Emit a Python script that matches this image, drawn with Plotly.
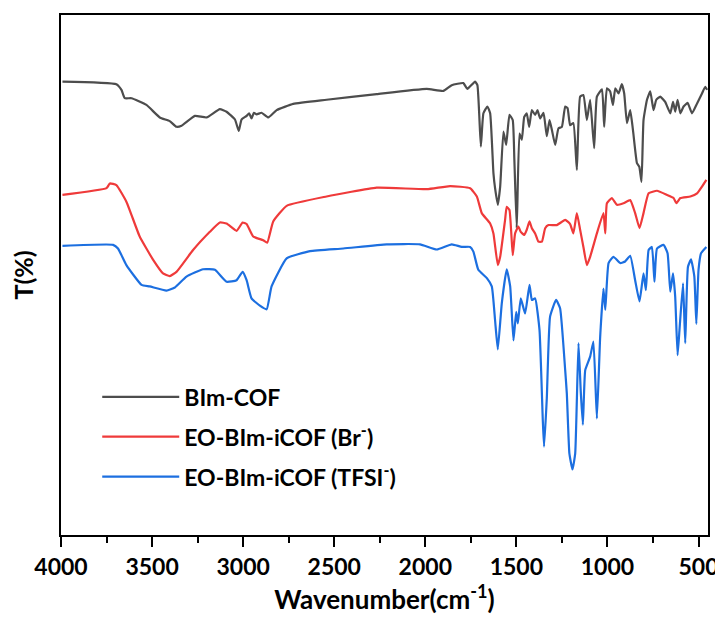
import plotly.graph_objects as go

# ---------------- data ----------------
bim_wn = [3992, 3696, 3668, 3650, 3613, 3531, 3458, 3403, 3366, 3338, 3265, 3201, 3128, 3091,
          3045, 3024, 3009, 2981, 2967, 2954, 2941, 2926, 2899, 2862, 2816, 2725, 2542, 2267,
          1992, 1901, 1855, 1791, 1769, 1727, 1714, 1695, 1681, 1659, 1644, 1626, 1617, 1602,
          1589, 1571, 1556, 1538, 1520, 1511, 1498, 1483, 1470, 1457, 1443, 1430, 1415, 1397,
          1384, 1370, 1351, 1333, 1318, 1305, 1287, 1269, 1250, 1232, 1219, 1205, 1187, 1168,
          1150, 1132, 1113, 1095, 1073, 1058, 1030, 1018, 1003, 985, 970, 957, 939, 921, 908,
          893, 875, 860, 838, 825, 813, 802, 783, 765, 747, 732, 710, 683, 655, 640, 628, 615,
          600, 582, 560, 536, 508, 481, 463, 453]
bim_t = [87.2, 86.7, 85.6, 84.0, 84.0, 82.7, 80.3, 79.6, 78.5, 78.7, 80.6, 80.3, 81.9, 81.4,
         79.9, 77.7, 79.9, 80.6, 81.1, 80.1, 81.2, 80.9, 81.2, 80.3, 81.7, 82.9, 83.7, 84.8,
         85.8, 85.4, 86.5, 86.9, 85.8, 87.2, 86.5, 74.7, 81.1, 82.4, 81.1, 69.6, 66.7, 63.5,
         67.0, 77.6, 75.0, 80.8, 79.8, 72.1, 59.0, 77.2, 76.0, 80.4, 81.1, 78.5, 81.7, 80.8,
         81.7, 80.1, 81.2, 76.7, 79.8, 77.9, 75.0, 78.2, 78.5, 82.4, 82.1, 78.8, 79.2, 70.2,
         84.3, 84.6, 79.8, 83.7, 74.4, 84.3, 85.7, 78.5, 85.9, 85.3, 82.7, 85.9, 84.9, 86.7, 84.9,
         79.2, 81.7, 77.9, 71.5, 70.8, 67.9, 79.8, 83.7, 85.3, 81.7, 83.7, 84.3, 83.3, 81.1, 83.3,
         81.4, 83.7, 81.1, 82.4, 83.1, 81.1, 83.0, 84.9, 86.2, 85.6]

br_wn = [3992, 3750, 3732, 3696, 3641, 3568, 3494, 3440, 3403, 3366, 3275, 3183, 3128, 3091,
         3036, 3003, 2981, 2945, 2890, 2868, 2835, 2761, 2542, 2267, 1992, 1864, 1754, 1717,
         1690, 1644, 1626, 1602, 1589, 1562, 1553, 1538, 1520, 1507, 1489, 1476, 1457, 1443,
         1428, 1415, 1397, 1379, 1360, 1342, 1324, 1278, 1232, 1205, 1187, 1168, 1150, 1132,
         1113, 1095, 1058, 1022, 1012, 1003, 976, 948, 912, 875, 848, 824, 802, 774, 728, 673,
         637, 622, 600, 545, 508, 481, 457]
br_t = [65.4, 66.7, 67.6, 67.3, 64.1, 57.4, 52.9, 50.3, 49.8, 50.6, 54.8, 58.3, 60.1, 59.9,
        58.5, 60.1, 59.8, 57.4, 56.7, 56.2, 60.3, 63.3, 65.1, 66.8, 66.5, 67.1, 66.7, 65.1,
        61.9, 59.9, 58.0, 51.9, 53.5, 60.6, 63.1, 62.5, 53.8, 58.0, 59.3, 58.3, 57.7, 58.7,
        60.3, 59.0, 58.0, 56.4, 56.4, 59.0, 59.6, 59.6, 60.6, 59.8, 58.0, 61.9, 58.7, 55.4,
        51.9, 53.5, 58.0, 61.9, 58.0, 63.8, 64.8, 63.5, 63.8, 64.4, 61.9, 59.0, 61.9, 65.7, 66.2,
        65.4, 64.8, 63.8, 64.8, 65.1, 65.7, 67.0, 68.3]

tfsi_wn = [3992, 3714, 3687, 3641, 3558, 3513, 3421, 3375, 3311, 3220, 3155, 3091, 3036, 3003,
           2981, 2954, 2908, 2871, 2844, 2761, 2633, 2450, 2212, 2029, 1937, 1855, 1800, 1754,
           1736, 1709, 1662, 1635, 1617, 1602, 1580, 1553, 1534, 1516, 1501, 1492, 1476, 1452,
           1428, 1415, 1397, 1373, 1355, 1348, 1333, 1315, 1282, 1260, 1232, 1223, 1209, 1192,
           1177, 1159, 1146, 1135, 1122, 1095, 1077, 1058, 1040, 1022, 1012, 994, 967, 930, 903,
           875, 848, 824, 802, 789, 774, 756, 742, 728, 692, 670, 655, 640, 628, 615, 604, 585,
           573, 558, 541, 523, 512, 500, 486, 457]
tfsi_t = [55.6, 55.8, 55.1, 51.9, 48.1, 47.8, 47.0, 47.6, 49.7, 51.1, 51.0, 48.7, 49.0, 50.6,
          49.0, 45.5, 44.1, 43.4, 47.8, 53.2, 54.6, 55.1, 55.9, 55.9, 54.9, 55.9, 55.4, 55.4,
          54.5, 51.0, 49.4, 47.8, 41.3, 35.7, 44.6, 51.1, 47.8, 37.4, 42.9, 40.7, 45.5, 42.6,
          48.1, 45.2, 45.5, 39.4, 22.1, 17.0, 26.3, 42.0, 45.2, 43.6, 31.7, 27.2, 15.7, 12.6,
          15.7, 36.9, 27.2, 21.2, 31.7, 34.3, 37.2, 22.4, 38.1, 47.4, 43.3, 52.3, 53.5, 52.3, 52.6,
          53.7, 49.0, 44.9, 50.3, 47.1, 54.8, 55.4, 48.7, 55.1, 55.8, 54.2, 46.8, 50.3, 45.8, 34.6,
          39.7, 48.4, 36.9, 51.6, 53.0, 49.7, 40.6, 51.0, 54.2, 55.4]

names = ["BIm-COF", "EO-BIm-iCOF (Br<sup>-</sup>)", "EO-BIm-iCOF (TFSI<sup>-</sup>)"]
colors = ["#4d4d4d", "#ef3a3a", "#1c6fe0"]

x_tick_vals = [4000, 3500, 3000, 2500, 2000, 1500, 1000, 500]
x_tick_text = ["4000", "3500", "3000", "2500", "2000", "1500", "1000", "500"]

# ---------------- figure ----------------
# the page body has an 8px default margin, so the figure is sized to fit the window
FONT = "Lato"
fig = go.Figure()
for wn, t, nm, c in zip([bim_wn, br_wn, tfsi_wn], [bim_t, br_t, tfsi_t], names, colors):
    fig.add_trace(go.Scatter(x=wn, y=t, mode="lines", name=nm,
                             line=dict(color=c, width=2.2, shape="spline", smoothing=0.4),
                             legendgroup=nm))

fig.update_layout(
    width=715, height=613,
    margin=dict(l=53, r=15, t=7, b=86),
    plot_bgcolor="white", paper_bgcolor="white",
    font=dict(family=FONT, color="black", size=20, weight="bold"),
    showlegend=True,
    legend=dict(x=0.056, y=0.307, xanchor="left", yanchor="top",
                bgcolor="rgba(0,0,0,0)", font=dict(family=FONT, size=23, weight="bold"),
                itemwidth=77, tracegroupgap=7),
)
fig.update_xaxes(
    range=[4000, 448], showgrid=False, zeroline=False, automargin=False,
    showline=True, linecolor="black", linewidth=2, mirror=True,
    tickvals=x_tick_vals, ticktext=x_tick_text,
    ticks="outside", ticklen=10, tickwidth=2, tickcolor="black",
    minor=dict(ticks="outside", ticklen=6, tickwidth=2, tickcolor="black", dtick=250, tick0=0),
    tickfont=dict(family=FONT, size=23, weight="bold"),
    title=dict(text="Wavenumber(cm<sup>-1</sup>)", font=dict(family=FONT, size=26, weight="bold"), standoff=12),
)
fig.update_yaxes(
    range=[0, 100], showgrid=False, zeroline=False, automargin=False,
    showline=True, linecolor="black", linewidth=2, mirror=True,
    showticklabels=False, ticks="",
    title=dict(text="T(%)", font=dict(family=FONT, size=25, weight="bold"), standoff=20),
)

fig.write_html("out.html")
